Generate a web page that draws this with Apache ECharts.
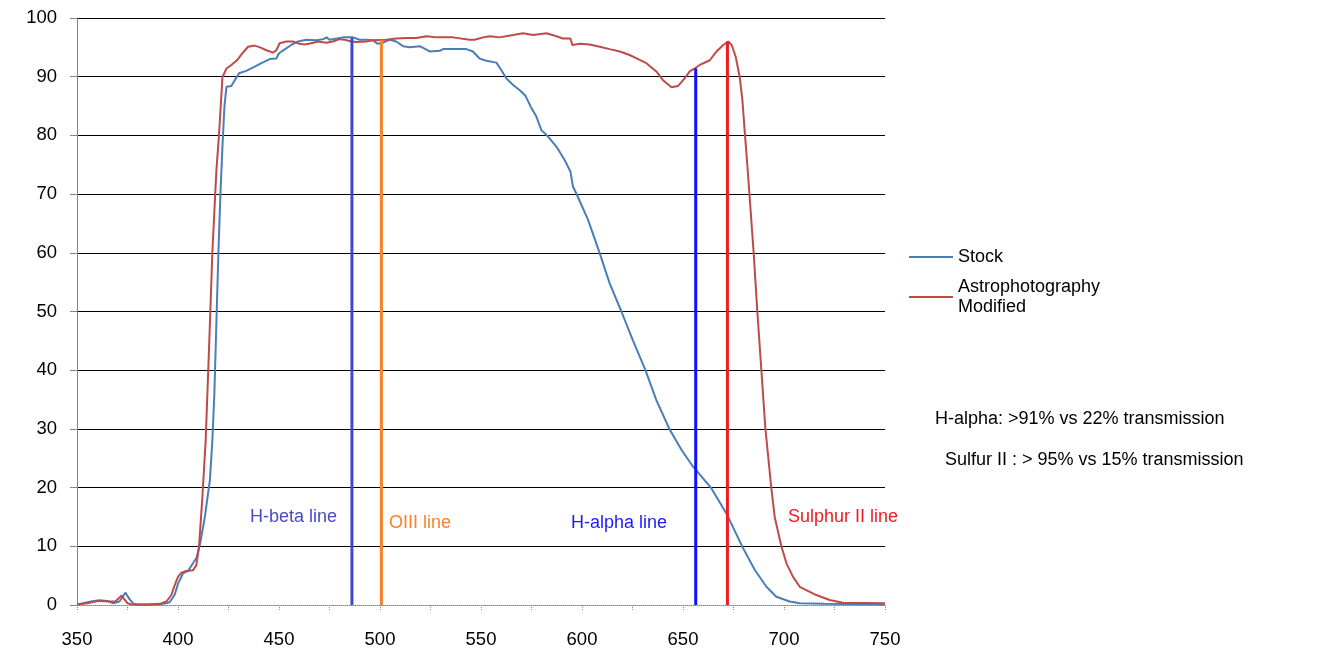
<!DOCTYPE html>
<html><head><meta charset="utf-8">
<script src="https://cdn.jsdelivr.net/npm/echarts@6/dist/echarts.min.js"></script>
<style>html,body{margin:0;padding:0;background:#fff}#c{width:1329px;height:671px}</style>
</head><body><div id="c"></div>
<script>
const xTicks = [350, 750, 25];
const yTicks = [0, 100, 10];

const stockNm = [350,353,357,361,365,368,371,374,376,378,380,390,394,396,398.4,400,402.5,405,407.4,409.1,410.7,413.3,415.8,417,418,419,420,421,422,423,424,426.4,430.2,433.8,438,441.3,445.4,448.7,450,453,456,459.4,463.6,468.6,471.9,473.6,475,478.6,481.7,486.6,490,493.2,496.5,499,501.5,504.8,508,511.4,514.7,519.7,524.6,529.6,531.2,542.8,546,549.3,552.7,557.6,560.1,562.6,565.9,569.2,572.1,574.6,577.4,579.9,583.2,587.3,591.4,594.3,595.5,597.2,603,608.8,613.7,619.5,625.2,631.4,636.8,643.4,649.3,654.9,664,671.5,679.4,685.5,691.3,696.2,702.8,707.8,720,750];
const stockT  = [0.1,0.3,0.6,0.8,0.7,0.3,0.6,2.1,1.0,0.2,0.1,0.1,0.3,0.5,1.8,3.6,5.4,5.8,7.1,8.0,10,15,21.3,28,36,48,60,70,78,85,88.3,88.4,90.6,91,91.7,92.3,93,93.1,94,94.7,95.4,96,96.3,96.2,96.4,96.7,96.3,96.5,96.7,96.7,96.3,96.3,96.2,95.6,95.8,96.3,96.0,95.2,95.0,95.2,94.3,94.4,94.7,94.7,94.3,93.1,92.7,92.4,91.1,89.7,88.6,87.7,86.7,84.9,83.2,80.9,79.8,78.1,75.8,73.8,71.3,70.1,65.6,59.9,54.8,50.0,45.1,40.0,34.9,29.9,26.4,23.6,19.9,15.6,9.9,6.0,3.1,1.4,0.6,0.3,0.2,0.1];

const modNm = [350,355,361,366,369,372,375,377,385,391,394.3,396.7,398.4,400,401.7,404.1,407.4,409.1,410.4,412,413.7,415.5,417,419,420.3,422,424,426.4,429.2,431.9,434.7,438,440.6,443.8,447,448.7,450.3,453.6,456.9,460.2,462.7,465.9,469.3,473.4,476.7,480,482.5,485.8,488.3,493.2,496.5,503.2,508,513,518,523,528,536.1,544.4,546.9,551,554.3,559.2,565.9,570.8,575.8,582.4,587.3,590.6,594.3,595.2,599,603.8,608.8,613.7,618.7,623.6,627.8,631.9,636.8,640.1,644.3,647.5,650.8,653.3,655.8,658.3,663.3,666.6,669.9,672.4,674.1,676.1,678.1,679.4,680.7,681.9,683,685,686.8,688.8,690.8,693.7,695.4,698.7,701.2,704.5,707.8,716,722.6,729.2,750];
const modT  = [0.1,0.3,0.7,0.6,0.6,1.6,0.3,0.1,0.1,0.2,0.6,1.7,3.4,4.8,5.5,5.8,5.9,6.8,10,18,28,45,60,74,80.1,89.9,91.4,92,92.8,94,95.1,95.3,95,94.5,94.1,94.5,95.7,96,96,95.6,95.5,95.7,96,95.8,96,96.4,96.3,96.0,95.9,96.0,96.2,96.3,96.5,96.6,96.6,96.9,96.7,96.7,96.3,96.3,96.7,96.9,96.7,97.1,97.4,97.1,97.4,96.9,96.5,96.5,95.4,95.6,95.5,95.1,94.7,94.3,93.7,93.0,92.3,90.9,89.4,88.2,88.4,89.7,90.9,91.4,92,92.8,94.3,95.4,96.0,95.4,93.4,89.9,86.0,80.0,74.7,69.5,59.9,50.0,40,30,20,15,10,7.1,4.8,3.1,1.7,0.85,0.4,0.3];

const lineNames = ['H-beta line','OIII line','H-alpha line','Sulphur II line'];
const lineNm    = [486.1, 500.7, 656.3, 672.0];
const lineTop   = [96.6, 96.3, 91.4, 96.0];
const lineColors= ['#3f48cc','#ff7f27','#1010ff','#ed1c24'];
const seriesNames = ['Stock','Astrophotography\nModified'];

const zip = (a,b) => a.map((v,i)=>[v,b[i]]);

const series = [
  {name:seriesNames[0], type:'line', data:zip(stockNm,stockT), symbol:'none', showSymbol:false,
   lineStyle:{color:'#4a7ebb',width:2}, itemStyle:{color:'#4a7ebb'}, z:3},
  {name:seriesNames[1], type:'line', data:zip(modNm,modT), symbol:'none', showSymbol:false,
   lineStyle:{color:'#be4b48',width:2}, itemStyle:{color:'#be4b48'}, z:3}
];
lineNm.forEach((x,i)=>{
  series.push({name:lineNames[i], type:'line', data:[[x,0],[x,lineTop[i]]], symbol:'none',
    lineStyle:{color:lineColors[i],width:3}, z:4, silent:true});
});

const F = 'Arial, "Liberation Sans", sans-serif';
const T = (text, x, y, fill) => ({type:'text', x, y,
  style:{text, fill, font:'18px '+F, verticalAlign:'middle', align:'left'}});

const chart = echarts.init(document.getElementById('c'), null, {renderer:'canvas'});
chart.setOption({
  animation:false,
  backgroundColor:'#fff',
  grid:{left:77, right:444, top:18, bottom:66, containLabel:false},
  xAxis:{type:'value', min:xTicks[0], max:xTicks[1], interval:xTicks[2],
    axisLine:{lineStyle:{color:'#888', type:'dotted', width:1}},
    axisTick:{show:true, length:5, lineStyle:{color:'#888', type:'dotted'}},
    axisLabel:{color:'#000', fontSize:18.5, fontFamily:F, margin:25,
      formatter:v => (v % 50 === 0 ? String(v) : '')},
    splitLine:{show:false}},
  yAxis:{type:'value', min:yTicks[0], max:yTicks[1], interval:yTicks[2],
    axisLine:{show:true, lineStyle:{color:'#868686', width:1}},
    axisTick:{show:true, length:7, lineStyle:{color:'#868686'}},
    axisLabel:{color:'#000', fontSize:18.5, fontFamily:F, margin:20},
    splitLine:{show:true, showMinLine:false, lineStyle:{color:'#000', width:1}}},
  legend:{data:seriesNames, orient:'vertical', left:904, top:242,
    itemWidth:44, itemHeight:2, itemGap:10, icon:'rect',
    textStyle:{color:'#000', fontSize:18, fontFamily:F, lineHeight:20, padding:[0,0,0,0]}},
  graphic:[
    T(lineNames[0], 250, 517, '#4a4ac8'),
    T(lineNames[1], 389, 523, '#ff7f27'),
    T(lineNames[2], 571, 523, '#1a1aff'),
    T(lineNames[3], 788, 517, '#ed1c24'),
    T('H-alpha: >91% vs 22% transmission', 935, 419, '#000'),
    T('Sulfur II : > 95% vs 15% transmission', 945, 460, '#000')
  ],
  series
});
</script></body></html>
